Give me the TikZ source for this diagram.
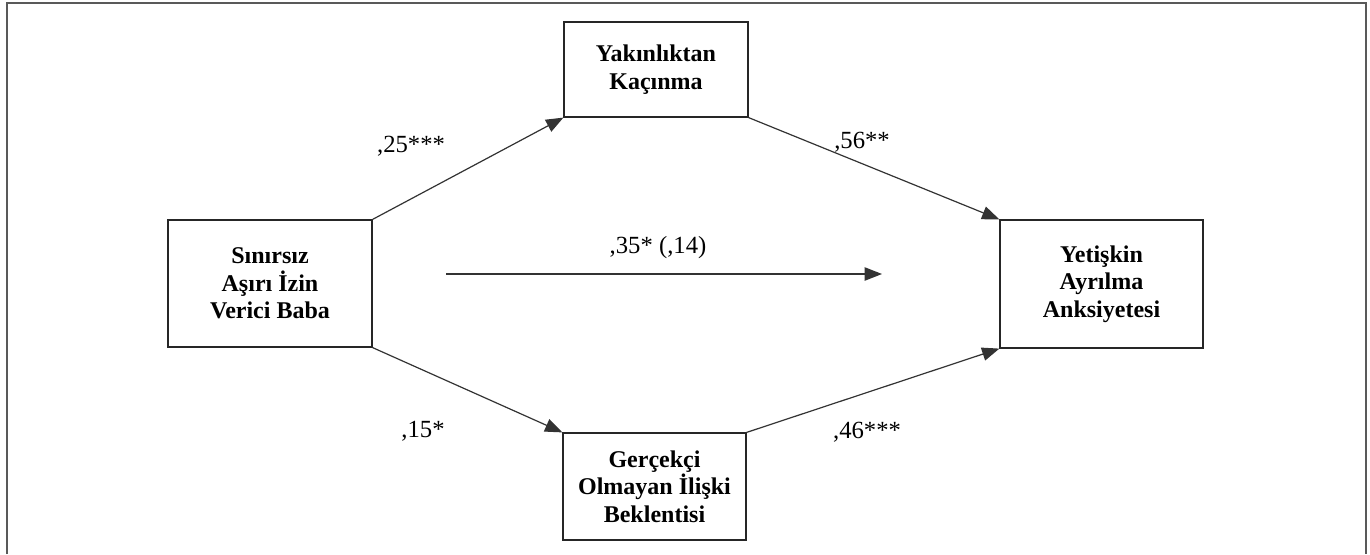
\documentclass[tikz,border=0pt]{standalone}
\usepackage{fontspec}
\setmainfont{Liberation Serif}
\usetikzlibrary{arrows.meta}
\begin{document}
\begin{tikzpicture}[x=0.75pt,y=-0.75pt,
  box/.style={draw=black!85, line width=0.9pt, inner sep=0pt, align=center,
    font=\bfseries\fontsize{18}{20.5}\selectfont},
  arr/.style={draw=black!80, line width=0.9pt, -{Triangle[length=13pt,width=10pt]}},
  lbl/.style={inner sep=0pt, anchor=base, font=\fontsize{18.5}{20}\selectfont},
  frame/.style={draw=black!65, line width=1.1pt}]
\useasboundingbox (0,0) rectangle (1370,554);
\fill[white] (0,0) rectangle (1370,554);
\draw[frame] (7,554) -- (7,3) -- (1366,3) -- (1366,554);

\node[box, minimum width=153pt, minimum height=95.25pt] (L) at (270,283.5)
  {Sınırsız\\Aşırı İzin\\Verici Baba};
\node[box, minimum width=138pt, minimum height=71.25pt] (T) at (656,69.5)
  {Yakınlıktan\\Kaçınma};
\node[box, minimum width=137.25pt, minimum height=80.25pt] (B) at (654.5,486.5)
  {Gerçekçi\\Olmayan İlişki\\Beklentisi};
\node[box, minimum width=152.25pt, minimum height=96pt] (R) at (1101.5,284)
  {Yetişkin\\Ayrılma\\Anksiyetesi};

\coordinate (h1) at (446,274);
\coordinate (h2) at (882,274);

\draw[arr] (L.north east) -- (T.south west);
\draw[arr] (T.south east) -- (R.north west);
\draw[arr] (L.south east) -- (B.north west);
\draw[arr] (B.north east) -- (R.south west);
\draw[arr] (h1) -- (h2);

\node[lbl] (l25) at (411,152) {,25***};
\node[lbl] (l56) at (862,148) {,56**};
\node[lbl] (l35) at (658,253) {,35* (,14)};
\node[lbl] (l15) at (423,437) {,15*};
\node[lbl] (l46) at (867,438) {,46***};
\end{tikzpicture}
\end{document}
